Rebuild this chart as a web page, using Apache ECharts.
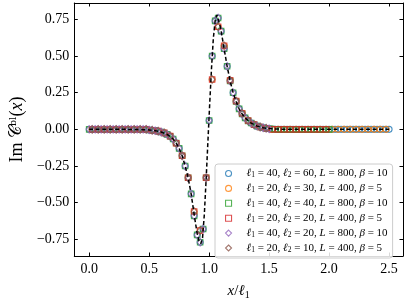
<!DOCTYPE html>
<html><head><meta charset="utf-8">
<script src="https://cdn.jsdelivr.net/npm/echarts@6/dist/echarts.min.js"></script>
<style>html,body{margin:0;padding:0;background:#fff}#c{width:407px;height:305px}</style>
</head><body><div id="c"></div>
<script>
// tick labels
const xTicks = [0.0, 0.5, 1.0, 1.5, 2.0, 2.5];
const yTicks = [-0.75, -0.5, -0.25, 0.0, 0.25, 0.5, 0.75];

// dashed reference curve
const curveX = [0, 0.3, 0.45, 0.5, 0.55, 0.6, 0.65, 0.7, 0.725, 0.75, 0.775, 0.8, 0.825, 0.85, 0.875, 0.9, 0.915, 0.93, 0.945, 0.96, 0.975, 0.99, 1.005, 1.02, 1.035, 1.05, 1.065, 1.075, 1.09, 1.1, 1.125, 1.15, 1.175, 1.2, 1.225, 1.25, 1.275, 1.3, 1.35, 1.4, 1.45, 1.5, 1.6, 1.8, 2.5];
const curveY = [0, 0, -0.002, -0.004, -0.009, -0.018, -0.034, -0.066, -0.093, -0.13, -0.18, -0.25, -0.33, -0.44, -0.58, -0.71, -0.76, -0.78, -0.74, -0.58, -0.34, -0.08, 0.18, 0.42, 0.62, 0.74, 0.78, 0.77, 0.71, 0.67, 0.55, 0.43, 0.33, 0.25, 0.19, 0.14, 0.105, 0.078, 0.043, 0.022, 0.011, 0.005, 0.001, 0, 0];

// l1 = 40 lattice (x step 0.025 from 0)
const fineStep = 0.025;
const fineY = [
  0,0,0,0,0,0,0,0,0,0,
  0,0,0,0,0,0,0,0,0,0,
  -0.004,-0.006,-0.009,-0.013,-0.018,-0.025,-0.034,-0.047,-0.066,-0.093,
  -0.13,-0.18,-0.25,-0.33,-0.44,-0.59,-0.72,-0.77,-0.68,-0.33,
  0.06,0.50,0.74,0.76,0.67,0.55,0.43,0.33,0.25,0.19,
  0.14,0.105,0.078,0.058,0.043,0.031,0.022,0.016,0.011,0.007,
  0.004,0.002,0.001,0,0,0,0,0,0,0,
  0,0,0,0,0,0,0,0,0,0,
  0,0,0,0,0,0,0,0,0,0,
  0,0,0,0,0,0,0,0,0,0,
  0
];
// l1 = 20 lattice (x = 0.025 + 0.05 k)
const coarseStart = 0.025, coarseStep = 0.05;
const coarseY = [
  0,0,0,0,0,0,0,0,0,0,
  -0.006,-0.012,-0.024,-0.046,-0.095,-0.18,-0.33,-0.56,-0.69,-0.33,
  0.34,0.70,0.57,0.335,0.193,0.11,0.06,0.032,0.016,0.008,
  0,0,0,0,0,0,0,0,0,0,
  0,0,0,0,0,0,0,0,0,0
];

const names = ['s1','s2','s3','s4','s5','s6'];
const l1s = [40, 20, 40, 20, 40, 20];
const l2s = [60, 30, 40, 20, 20, 10];
const Ls = [800, 400, 800, 400, 800, 400];
const betas = [10, 5, 10, 5, 10, 5];
const xMaxes = [2.5, 2.5, 2.0, 2.0, 1.5, 1.5];
const colors = ['#1f77b4','#ff7f0e','#2ca02c','#d62728','#9467bd','#8c564b'];
const symbols = ['circle','circle','rect','rect','diamond','diamond'];
const lattices = ['fine','coarse','fine','coarse','fine','coarse'];

function pts(kind, xmax) {
  const out = [];
  if (kind === 'fine') {
    fineY.forEach((v, i) => { const x = i * fineStep; if (x <= xmax + 1e-9) out.push([x, v]); });
  } else {
    coarseY.forEach((v, k) => { const x = coarseStart + k * coarseStep; if (x <= xmax + 1e-9) out.push([x, v]); });
  }
  return out;
}
const symSize = {circle: 6, rect: 5.5, diamond: [5.5, 7.5]};

const series = names.map((n, i) => ({
  name: n, type: 'scatter', data: pts(lattices[i], xMaxes[i]),
  symbol: symbols[i], symbolSize: symSize[symbols[i]],
  itemStyle: {color: 'rgba(255,255,255,0)', borderColor: colors[i], borderWidth: 1.1},
  emphasis: {disabled: true}, z: 2
}));
series.push({
  type: 'line', data: curveX.map((x, i) => [x, curveY[i]]), showSymbol: false,
  lineStyle: {color: '#000', width: 1.5, type: [4, 2.5]}, z: 5, silent: true
});

const serif = 'Liberation Serif';
const fmtY = v => (v < 0 ? '\u2212' : '') + Math.abs(v).toFixed(2);
const fmtX = v => v.toFixed(1);

const chart = echarts.init(document.getElementById('c'), null, {renderer: 'canvas'});
const xBase = {type: 'value', min: -0.124, max: 2.616, splitLine: {show: false},
  axisLine: {show: true, onZero: false, lineStyle: {color: '#000', width: 1}},
  axisTick: {show: true, inside: true, length: 3.5, lineStyle: {color: '#000'}, customValues: xTicks}};
const yBase = {type: 'value', min: -0.864, max: 0.862, splitLine: {show: false},
  axisLine: {show: true, onZero: false, lineStyle: {color: '#000', width: 1}},
  axisTick: {show: true, inside: true, length: 3.5, lineStyle: {color: '#000'}, customValues: yTicks}};

chart.setOption({
  animation: false,
  grid: {left: 72, top: 3, right: 4, bottom: 39},
  xAxis: [
    Object.assign({}, xBase, {position: 'bottom',
      axisLabel: {customValues: xTicks, formatter: fmtX, fontFamily: serif, fontSize: 14, color: '#000', margin: 6},
      name: '{i|x}{r|/}{i|ℓ}{sub|1}', nameLocation: 'middle', nameGap: 26,
      nameTextStyle: {rich: {
        i: {fontFamily: serif, fontStyle: 'italic', fontSize: 15, color: '#000', lineHeight: 18},
        r: {fontFamily: serif, fontSize: 15, color: '#000', lineHeight: 18},
        sub: {fontFamily: serif, fontSize: 10, color: '#000', lineHeight: 10, verticalAlign: 'bottom'}
      }}}),
    Object.assign({}, xBase, {position: 'top', axisLabel: {show: false}})
  ],
  yAxis: [
    Object.assign({}, yBase, {position: 'left',
      axisLabel: {customValues: yTicks, formatter: fmtY, fontFamily: serif, fontSize: 14, color: '#000', margin: 5},
      name: '{r|Im }{c|𝒞}{sup|ᵇˡ}{r|(}{i|x}{r|)}', nameLocation: 'middle', nameGap: 46, nameRotate: 90,
      nameTextStyle: {rich: {
        r: {fontFamily: serif, fontSize: 18, color: '#000', lineHeight: 22},
        i: {fontFamily: serif, fontStyle: 'italic', fontSize: 18, color: '#000', lineHeight: 22},
        c: {fontFamily: 'DejaVu Serif', fontSize: 17, color: '#000', lineHeight: 22},
        sup: {fontFamily: 'DejaVu Serif', fontSize: 15, color: '#000', lineHeight: 22}
      }}}),
    Object.assign({}, yBase, {position: 'right', axisLabel: {show: false}})
  ],
  legend: {
    data: names.map((n, i) => ({name: n, icon: symbols[i],
      itemStyle: {color: 'rgba(255,255,255,0)', borderColor: colors[i], borderWidth: 1.1}})),
    orient: 'vertical', left: 215, top: 164, itemWidth: 6, itemHeight: 6, itemGap: 3.4,
    padding: [4, 5, 4, 10], backgroundColor: 'rgba(255,255,255,0.85)', borderColor: '#ccc', borderWidth: 1, borderRadius: 3,
    selectedMode: false,
    formatter: n => {
      const i = names.indexOf(n);
      return `{i|ℓ}{s|1}{n| = ${l1s[i]}, }{i|ℓ}{s|2}{n| = ${l2s[i]}, }{i|L}{n| = ${Ls[i]}, }{i|β}{n| = ${betas[i]}}`;
    },
    textStyle: {padding: [0, 0, 0, 10], rich: {
      i: {fontFamily: serif, fontStyle: 'italic', fontSize: 11, color: '#000', lineHeight: 12},
      n: {fontFamily: serif, fontSize: 11, color: '#000', lineHeight: 12},
      s: {fontFamily: serif, fontSize: 7.5, color: '#000', lineHeight: 7, verticalAlign: 'bottom'}
    }}
  },
  series: series
});
</script></body></html>
